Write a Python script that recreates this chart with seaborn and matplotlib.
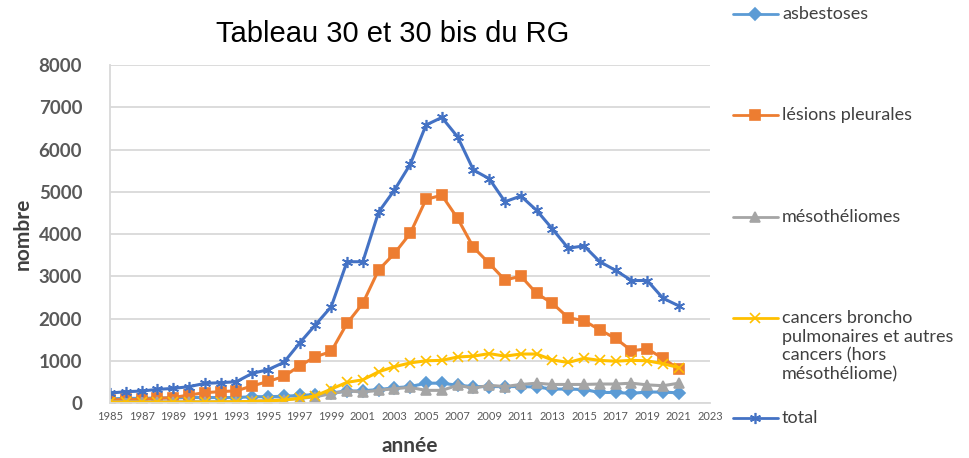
import matplotlib
matplotlib.use("Agg")
import matplotlib.pyplot as plt
import pandas as pd
import seaborn as sns
from matplotlib.lines import Line2D

years = list(range(1985, 2022))

asbestoses = [100, 110, 110, 120, 120, 130, 130, 130, 130, 150, 150, 160, 180, 200, 240,
              280, 290, 320, 360, 390, 470, 470, 420, 390, 390, 390, 390, 380, 330, 330,
              320, 250, 250, 230, 260, 260, 240]
lesions = [70, 85, 85, 110, 130, 190, 245, 270, 290, 405, 510, 630, 880, 1095, 1220,
           1885, 2360, 3150, 3540, 4015, 4820, 4920, 4370, 3685, 3305, 2910, 3005, 2595,
           2360, 2020, 1950, 1730, 1530, 1240, 1280, 1060, 800]
mesos = [30, 30, 30, 30, 30, 30, 30, 30, 30, 40, 60, 80, 110, 150, 220, 290, 260, 300,
         340, 370, 300, 300, 420, 350, 420, 390, 440, 470, 440, 440, 440, 450, 450, 470,
         430, 410, 470]
cancers = [20, 20, 20, 20, 20, 25, 25, 30, 30, 40, 50, 70, 110, 170, 330, 490, 550, 740,
           860, 950, 1000, 1010, 1090, 1110, 1170, 1110, 1160, 1160, 1020, 960, 1060,
           1010, 990, 1010, 1000, 930, 840]
total = [237, 268, 284, 323, 347, 387, 466, 481, 505, 702, 790, 960, 1420, 1850, 2280,
         3345, 3345, 4520, 5040, 5650, 6580, 6760, 6300, 5515, 5310, 4765, 4900, 4560,
         4120, 3665, 3720, 3345, 3140, 2900, 2900, 2480, 2300]

labels = ["asbestoses", "lésions pleurales", "mésothéliomes",
          "cancers broncho\npulmonaires et autres\ncancers (hors\nmésothéliome)", "total"]
series = [asbestoses, lesions, mesos, cancers, total]
colors = ["#5B9BD5", "#ED7D31", "#A5A5A5", "#FFC000", "#4472C4"]
markers = ["D", "s", "^", "x", (6, 2, 0)]
msizes = [6, 7.5, 7, 7, 8]

sns.set_style("white")
plt.rcParams["font.family"] = ["Lato", "DejaVu Sans"]

fig = plt.figure(figsize=(9.7, 4.58), dpi=100)
ax = fig.add_axes([0.1134, 0.120, 0.619, 0.738])

for lab, vals, col, mk, ms in zip(labels, series, colors, markers, msizes):
    df = pd.DataFrame({"année": years, "nombre": vals})
    sns.lineplot(data=df, x="année", y="nombre", ax=ax, color=col, linewidth=2.2,
                 marker=mk, markersize=ms, markeredgecolor=col, markeredgewidth=1.2,
                 label=lab, legend=False)

ax.set_xlim(1985, 2023)
ax.set_ylim(0, 8000)
ax.set_xticks(range(1985, 2024, 2))
ax.set_yticks(range(0, 8001, 1000))
ax.grid(axis="y", color="#D9D9D9", linewidth=1.3)
ax.set_axisbelow(True)
for s in ["top", "right"]:
    ax.spines[s].set_visible(False)
for s in ["left", "bottom"]:
    ax.spines[s].set_color("#D9D9D9")
    ax.spines[s].set_linewidth(1.3)
ax.tick_params(axis="x", labelsize=8, colors="#595959", length=0, pad=6)
ax.tick_params(axis="y", labelsize=13.5, colors="#595959", length=0, pad=20)
for t in ax.get_yticklabels():
    t.set_fontweight("bold")

ax.set_xlabel("année", fontsize=15, fontweight="bold", color="#404040", labelpad=10)
ax.set_ylabel("nombre", fontsize=15, fontweight="bold", color="#404040", labelpad=4)
fig.text(0.405, 0.925, "Tableau 30 et 30 bis du RG", fontsize=21, ha="center",
         va="center", family=["Liberation Sans", "DejaVu Sans"], color="#000000")

# legende a la Excel, a droite
leg_y = [14, 115, 217, 318, 418]
for lab, col, mk, ms, y in zip(labels, colors, markers, msizes, leg_y):
    yf = 1 - y / 458
    fig.add_artist(Line2D([733 / 970, 778 / 970], [yf, yf], color=col, linewidth=2.0,
                          transform=fig.transFigure))
    fig.add_artist(Line2D([755.5 / 970], [yf], color=col, marker=mk, markersize=ms,
                          markeredgecolor=col, markeredgewidth=1.2,
                          transform=fig.transFigure))
    fig.text(782 / 970, yf + 8 / 458, lab, fontsize=13, color="#404040", ha="left",
             va="top", linespacing=1.22)

fig.savefig("out.png", dpi=100)
